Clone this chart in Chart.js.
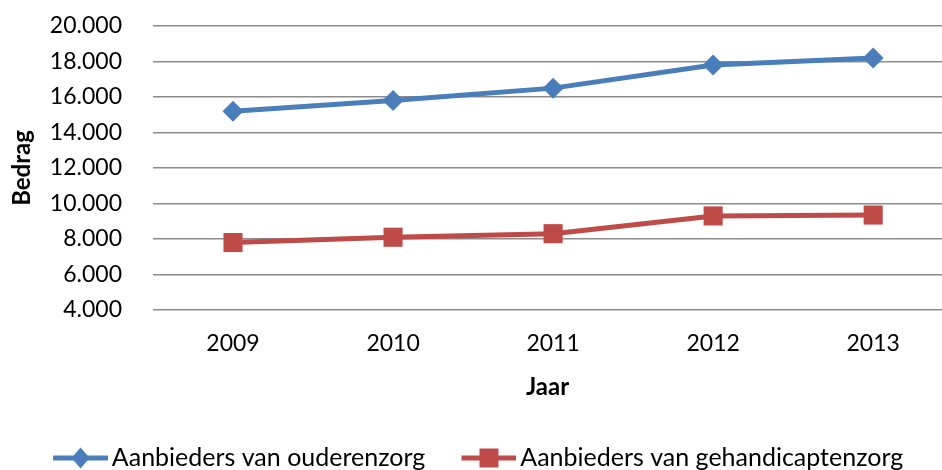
<!DOCTYPE html>
<html>
<head>
<meta charset="utf-8">
<script src="https://cdn.jsdelivr.net/npm/chart.js@4.4.1/dist/chart.umd.min.js"></script>
<style>
  html, body { margin: 0; padding: 0; overflow: hidden; background: #fff; }
  canvas { display: block; }
</style>
</head>
<body>
<canvas id="chart" width="942" height="470"></canvas>
<script>
// Values
const years = [2009, 2010, 2011, 2012, 2013];
const ouderenzorg = [15200, 15800, 16500, 17800, 18200];
const gehandicaptenzorg = [7800, 8100, 8300, 9300, 9350];
const yTicks = [4000, 6000, 8000, 10000, 12000, 14000, 16000, 18000, 20000];

const BLUE = '#4a7ebb';
const RED = '#be4b48';
const FONT = 'Lato';

// line + marker icon for the legend
function legendIcon(color, shape) {
    const c = document.createElement('canvas');
    c.width = 78;
    c.height = 24;
    const g = c.getContext('2d');
    const mid = 50.5;
    g.strokeStyle = color;
    g.fillStyle = color;
    g.lineWidth = 5;
    g.beginPath();
    g.moveTo(23, 12);
    g.lineTo(78, 12);
    g.stroke();
    g.beginPath();
    if (shape === 'diamond') {
        g.moveTo(mid, 1.5);
        g.lineTo(mid + 9, 12);
        g.lineTo(mid, 22.5);
        g.lineTo(mid - 9, 12);
    } else {
        g.rect(mid - 9.5, 2.5, 19, 19);
    }
    g.fill();
    return c;
}

const fmt = v => String(v).replace(/\B(?=(\d{3})+(?!\d))/g, '.');
const pts = vals => years.map((yr, i) => ({ x: yr, y: vals[i] }));

new Chart(document.getElementById('chart'), {
    type: 'line',
    data: {
        datasets: [{
            label: 'Aanbieders van ouderenzorg',
            data: pts(ouderenzorg),
            borderColor: BLUE,
            backgroundColor: BLUE,
            borderWidth: 5,
            pointStyle: 'rectRot',
            pointRadius: 10.5,
            pointBorderWidth: 0,
            tension: 0
        }, {
            label: 'Aanbieders van gehandicaptenzorg',
            data: pts(gehandicaptenzorg),
            borderColor: RED,
            backgroundColor: RED,
            borderWidth: 5,
            pointStyle: 'rect',
            pointRadius: 13.5,
            pointBorderWidth: 0,
            tension: 0
        }]
    },
    options: {
        responsive: false,
        animation: false,
        layout: {
            autoPadding: false,
            padding: { left: 0, right: 0, top: 26, bottom: -10.5 }
        },
        plugins: {
            tooltip: { enabled: false },
            legend: {
                position: 'bottom',
                labels: {
                    usePointStyle: true,
                    pointStyleWidth: 60.5,
                    padding: 22,
                    color: '#000',
                    font: { family: FONT, size: 25 },
                    generateLabels: chart => chart.data.datasets.map((ds, i) => ({
                        text: ds.label,
                        datasetIndex: i,
                        pointStyle: legendIcon(ds.borderColor, i === 0 ? 'diamond' : 'square'),
                        fontColor: '#000',
                        lineWidth: 0,
                        hidden: false
                    }))
                }
            }
        },
        scales: {
            x: {
                type: 'linear',
                min: 2008.5,
                max: 2013.43,
                afterBuildTicks: s => { s.ticks = years.map(v => ({ value: v })); },
                grid: { display: false },
                border: { display: false },
                ticks: {
                    color: '#000',
                    autoSkip: false,
                    maxRotation: 0,
                    font: { family: FONT, size: 23 },
                    padding: 12,
                    callback: v => String(v)
                },
                title: {
                    display: true,
                    text: 'Jaar',
                    color: '#000',
                    font: { family: FONT, size: 24, weight: 'bold' },
                    padding: { top: 10, bottom: 21.5 }
                },
                afterFit: s => { s.height = 113.5; }
            },
            y: {
                min: 4000,
                max: 20000,
                afterBuildTicks: s => { s.ticks = yTicks.map(v => ({ value: v })); },
                // invisible tick marks keep the labels away from the plot
                grid: { color: '#8c8c8c', lineWidth: 1.5, drawTicks: true, tickLength: 31, tickColor: 'rgba(0,0,0,0)' },
                border: { display: false },
                ticks: {
                    color: '#000',
                    autoSkip: false,
                    font: { family: FONT, size: 23 },
                    padding: 0,
                    callback: v => fmt(v)
                },
                title: {
                    display: true,
                    text: 'Bedrag',
                    color: '#000',
                    font: { family: FONT, size: 24, weight: 'bold' },
                    padding: { top: 8, bottom: 0 }
                },
                afterFit: s => { s.width = 153; }
            }
        }
    }
});
</script>
</body>
</html>
